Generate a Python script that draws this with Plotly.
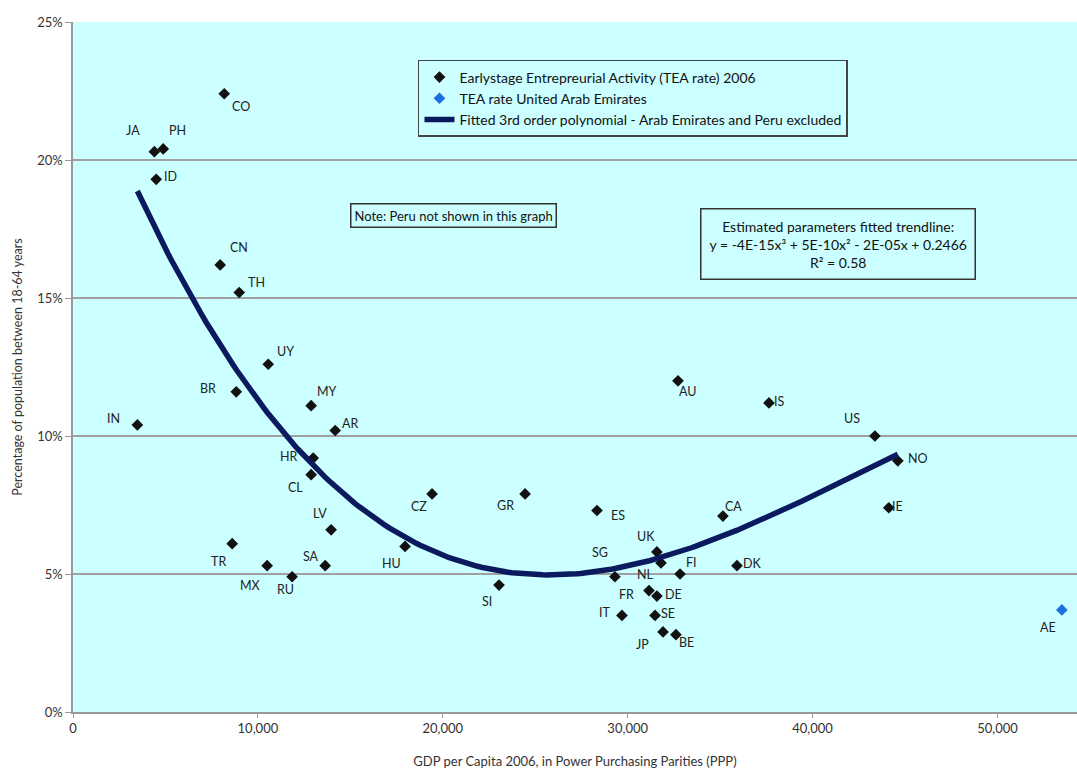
import numpy as np
import plotly.graph_objects as go

# Early-stage entrepreneurial activity (TEA, % of population 18-64) vs GDP per capita (PPP), 2006
countries = ["IN", "JA", "PH", "CO", "ID", "CN", "TH", "UY", "BR", "MY", "AR", "HR", "CL",
             "CZ", "LV", "TR", "MX", "SA", "RU", "HU", "SI", "GR", "ES", "SG", "UK", "NL",
             "FI", "DK", "FR", "DE", "IT", "SE", "JP", "BE", "AU", "IS", "US", "NO", "CA", "IE"]
gdp = [3480, 4400, 4880, 8180, 4500, 7960, 8990, 10560, 8830, 12880, 14180, 12990, 12880,
       19420, 13960, 8610, 10500, 13640, 11850, 17960, 23040, 24450, 28340, 29310, 31580, 31800,
       32830, 35910, 31150, 31580, 29690, 31480, 31910, 32610, 32720, 37640, 43370, 44610, 35150, 44120]
tea = [10.4, 20.3, 20.4, 22.4, 19.3, 16.2, 15.2, 12.6, 11.6, 11.1, 10.2, 9.2, 8.6,
       7.9, 6.6, 6.1, 5.3, 5.3, 4.9, 6.0, 4.6, 7.9, 7.3, 4.9, 5.8, 5.4,
       5.0, 5.3, 4.4, 4.2, 3.5, 3.5, 2.9, 2.8, 12.0, 11.2, 10.0, 9.1, 7.1, 7.4]

uae_label = "AE"
uae_gdp = 53480
uae_tea = 3.7

y_ticks = [0, 5, 10, 15, 20, 25]
y_tick_text = ["0%", "5%", "10%", "15%", "20%", "25%"]
x_ticks = [0, 10000, 20000, 30000, 40000, 50000]
x_tick_text = ["0", "10,000", "20,000", "30,000", "40,000", "50,000"]

# pixel offsets of the country code labels relative to their markers
label_shift = {
    "IN": (-24, 6), "JA": (-21, 21), "PH": (14, 18), "CO": (17, -13), "ID": (14, 3),
    "CN": (19, 17), "TH": (17, 10), "UY": (17, 13), "BR": (-28, 3), "MY": (16, 14),
    "AR": (15, 7), "HR": (-24, 2), "CL": (-16, -13), "CZ": (-13, -13), "LV": (-11, 16),
    "TR": (-14, -18), "MX": (-17, -20), "SA": (-14, 9), "RU": (-7, -13), "HU": (-14, -17),
    "SI": (-12, -16), "GR": (-20, -12), "ES": (21, -5), "SG": (-15, 24), "UK": (-11, 15),
    "NL": (-15, -12), "FI": (11, 12), "DK": (16, 2), "FR": (-22, -4), "DE": (17, 2),
    "IT": (-17, 3), "SE": (13, 2), "JP": (-21, -13), "BE": (11, -8), "AU": (10, -11),
    "IS": (11, 1), "US": (-23, 18), "NO": (20, 2), "CA": (11, 10), "IE": (9, 1),
    "AE": (-14, -18),
}

# third order polynomial fitted to the points (United Arab Emirates excluded)
coef = np.polyfit(np.array(gdp, float), np.array(tea, float), 3)
x_fit = np.linspace(min(gdp), max(gdp), 200)
y_fit = np.polyval(coef, x_fit)

bg = "#ccffff"
font_family = "Lato, 'Noto Sans', sans-serif"

fig = go.Figure()
fig.add_trace(go.Scatter(
    x=gdp, y=tea, mode="markers", name="Earlystage Entrepreurial Activity (TEA rate) 2006",
    marker=dict(symbol="diamond", size=9, color="#111111"),
))
fig.add_trace(go.Scatter(
    x=[uae_gdp], y=[uae_tea], mode="markers", name="TEA rate United Arab Emirates",
    marker=dict(symbol="diamond", size=9, color="#1f6fe0"),
))
fig.add_trace(go.Scatter(
    x=x_fit, y=y_fit, mode="lines",
    name="Fitted 3rd order polynomial - Arab Emirates and Peru excluded",
    line=dict(color="#0b1a5e", width=5.5),
))

annotations = []
for code, xv, yv in list(zip(countries, gdp, tea)) + [(uae_label, uae_gdp, uae_tea)]:
    dx, dy = label_shift[code]
    annotations.append(dict(
        x=xv, y=yv, text=code, showarrow=False, xshift=dx, yshift=dy,
        font=dict(size=12.5, color="#222222", family=font_family),
    ))

annotations.append(dict(
    x=0.3785, y=0.719, xref="paper", yref="paper", xanchor="center", yanchor="middle",
    showarrow=False,
    text="Note: Peru not shown in this graph",
    font=dict(size=13, color="#111111", family=font_family),
    bordercolor="#333333", borderwidth=1.5, borderpad=3, bgcolor=bg,
))
annotations.append(dict(
    x=0.762, y=0.678, xref="paper", yref="paper", xanchor="center", yanchor="middle",
    showarrow=False, align="center",
    text="Estimated parameters fitted trendline:<br>"
         "y = -4E-15x³ + 5E-10x² - 2E-05x + 0.2466<br>"
         "R² = 0.58",
    font=dict(size=14, color="#111111", family=font_family),
    bordercolor="#333333", borderwidth=1.5, borderpad=8, bgcolor=bg,
))

fig.update_layout(
    width=1077, height=770,
    margin=dict(l=73, r=0, t=22, b=58),
    paper_bgcolor="white", plot_bgcolor=bg,
    font=dict(family=font_family, color="#333333"),
    showlegend=True,
    legend=dict(
        x=0.3436, y=0.945, xanchor="left", yanchor="top",
        bgcolor=bg, bordercolor="#444444", borderwidth=1.5,
        font=dict(size=14, color="#111111", family=font_family),
        tracegroupgap=0, itemwidth=30,
    ),
    annotations=annotations,
)
fig.update_xaxes(
    range=[0, 54300], tickvals=x_ticks, ticktext=x_tick_text,
    showgrid=False, zeroline=False, showline=True, linecolor="#999999", linewidth=1.5,
    ticks="outside", ticklen=4, tickcolor="#999999",
    tickfont=dict(size=13, color="#333333"),
    title=dict(text="GDP per Capita 2006, in Power Purchasing Parities (PPP)",
               font=dict(size=13, color="#333333"), standoff=22),
)
fig.update_yaxes(
    range=[0, 25], tickvals=y_ticks, ticktext=y_tick_text,
    showgrid=True, gridcolor="#a0a0a0", gridwidth=1.5,
    zeroline=False, showline=True, linecolor="#999999", linewidth=1.5,
    ticks="outside", ticklen=6, tickcolor="#999999",
    tickfont=dict(size=13, color="#333333"),
    title=dict(text="Percentage of population between 18-64 years",
               font=dict(size=12.5, color="#333333"), standoff=12),
)

fig.write_html("out.html")
